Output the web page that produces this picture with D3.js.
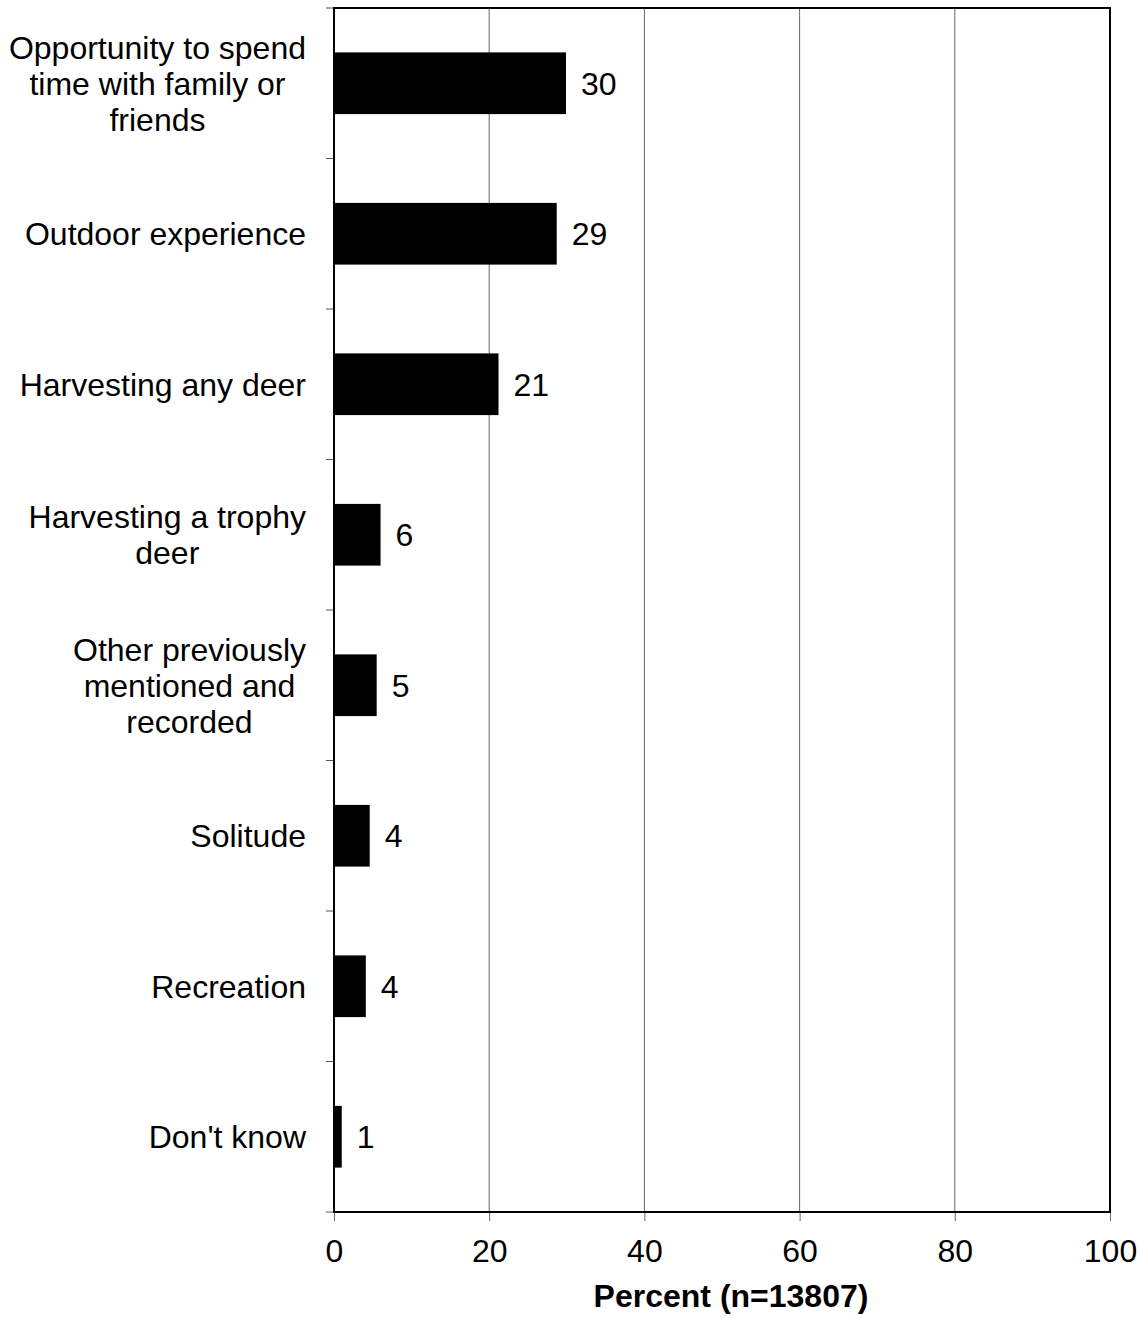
<!DOCTYPE html>
<html>
<head>
<meta charset="utf-8">
<script src="https://cdn.jsdelivr.net/npm/d3@7"></script>
<style>
  html, body { margin: 0; padding: 0; background: #fff; }
  text { font-family: "Liberation Sans", Arial, Helvetica, sans-serif; }
</style>
</head>
<body>
<svg id="chart" width="1142" height="1317"></svg>
<script>
const categories = [
  "Opportunity to spend\ntime with family or\nfriends",
  "Outdoor experience",
  "Harvesting any deer",
  "Harvesting a trophy\ndeer",
  "Other previously\nmentioned and\nrecorded",
  "Solitude",
  "Recreation",
  "Don't know"
];
const values = [29.9, 28.7, 21.2, 6.0, 5.5, 4.6, 4.1, 1.0];
const valueLabels = ["30", "29", "21", "6", "5", "4", "4", "1"];
const xTicks = [0, 20, 40, 60, 80, 100];
const xTitle = "Percent (n=13807)";

(function () {
const svg = d3.select("#chart");
const pL = 334, pR = 1110, pT = 8, pB = 1212;
const fs = 32;

const x = d3.scaleLinear().domain([0, 100]).range([pL, pR]);
const y = d3.scaleBand().domain(categories).range([pT, pB])
  .paddingInner(0.59).paddingOuter(0.295);

// gridlines
svg.append("g").selectAll("line").data(xTicks.filter(d => d > 0 && d < 100))
  .join("line")
  .attr("x1", d => x(d)).attr("x2", d => x(d))
  .attr("y1", pT).attr("y2", pB)
  .attr("stroke", "#666").attr("stroke-width", 1);

// bars
svg.append("g").selectAll("rect").data(values).join("rect")
  .attr("x", x(0))
  .attr("y", (d, i) => y(categories[i]))
  .attr("width", d => x(d) - x(0))
  .attr("height", y.bandwidth())
  .attr("fill", "#000");

// value labels
svg.append("g").selectAll("text").data(values).join("text")
  .attr("x", d => x(d) + 15)
  .attr("y", (d, i) => y(categories[i]) + y.bandwidth() / 2)
  .attr("dy", "0.36em")
  .attr("font-size", fs)
  .attr("fill", "#000")
  .text((d, i) => valueLabels[i]);

// bottom axis
const xAxis = d3.axisBottom(x).tickValues(xTicks).tickSize(9).tickPadding(18).tickFormat(d3.format("d"));
const gx = svg.append("g").attr("transform", `translate(0,${pB})`).call(xAxis);
gx.select(".domain").remove();
gx.selectAll(".tick line").attr("stroke", "#666");
gx.selectAll(".tick text").attr("font-size", fs).attr("fill", "#000")
  .attr("font-family", '"Liberation Sans", Arial, sans-serif');

// left axis ticks at band boundaries
const boundaries = d3.range(categories.length + 1).map(i => pT + i * y.step());
svg.append("g").selectAll("line").data(boundaries).join("line")
  .attr("x1", pL - 8).attr("x2", pL)
  .attr("y1", d => d).attr("y2", d => d)
  .attr("stroke", "#555").attr("stroke-width", 1);

// frame
svg.append("rect")
  .attr("x", pL).attr("y", pT)
  .attr("width", pR - pL).attr("height", pB - pT)
  .attr("fill", "none").attr("stroke", "#000").attr("stroke-width", 2);

// category labels
const labelRight = 306;
const lineH = 36;
categories.forEach((cat, i) => {
  const lines = cat.split("\n");
  const g = svg.append("g");
  const cy = y(cat) + y.bandwidth() / 2;
  const n = lines.length;
  const texts = lines.map((ln, k) => g.append("text")
    .attr("y", cy + (k - (n - 1) / 2) * lineH)
    .attr("dy", "0.36em")
    .attr("font-size", fs)
    .attr("text-anchor", "middle")
    .attr("fill", "#000")
    .text(ln));
  const maxW = d3.max(texts, t => t.node().getComputedTextLength());
  texts.forEach(t => t.attr("x", labelRight - maxW / 2));
});

// axis title
svg.append("text")
  .attr("x", 731).attr("y", 1307)
  .attr("text-anchor", "middle")
  .attr("font-size", fs)
  .attr("font-weight", "bold")
  .attr("fill", "#000")
  .text(xTitle);
})();
</script>
</body>
</html>
